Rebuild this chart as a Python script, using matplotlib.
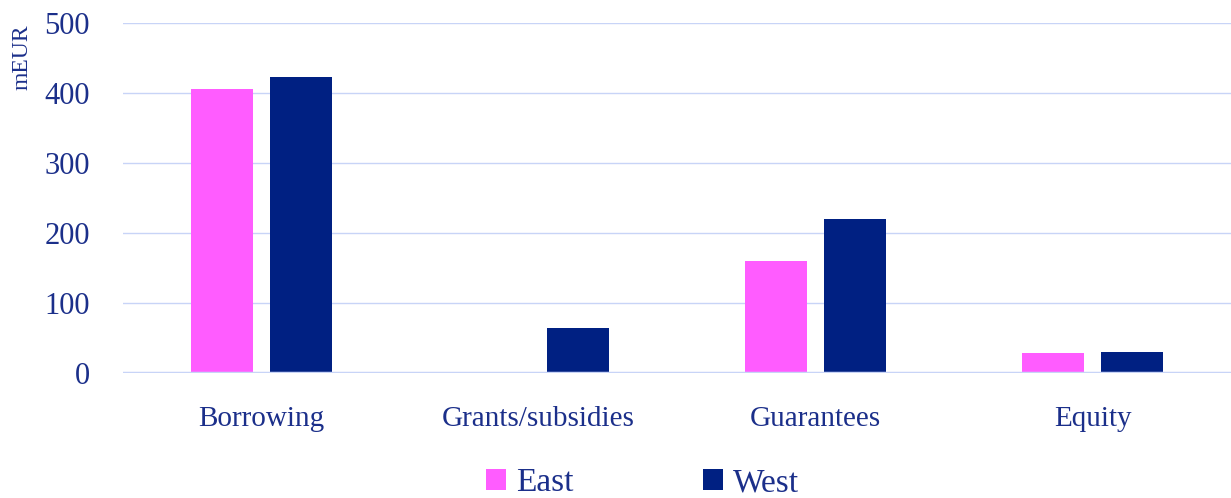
import matplotlib
matplotlib.use("Agg")
import matplotlib.pyplot as plt
import numpy as np

categories = ["Borrowing", "Grants/subsidies", "Guarantees", "Equity"]
east = [405, 0, 160, 28]
west = [423, 64, 220, 30]
yticks = [0, 100, 200, 300, 400, 500]

plt.rcParams['font.family'] = ['Liberation Serif', 'DejaVu Serif']
text_color = "#1B2F8A"
grid_color = "#C8D4F7"

fig = plt.figure(figsize=(12.31, 4.98), dpi=100)
ax = fig.add_axes([0.1, 0.251, 0.9, 0.703])

x = np.arange(len(categories))
w = 0.224
off = 0.143
ax.bar(x - off, east, w, color="#FF5CFF", label="East", zorder=3)
ax.bar(x + off, west, w, color="#002082", label="West", zorder=3)

ax.set_xlim(-0.5, len(categories) - 0.5)
ax.set_ylim(0, 500)
ax.set_yticks(yticks)
ax.set_yticklabels([str(v) for v in yticks])
ax.set_xticks(x)
ax.set_xticklabels(categories)
ax.tick_params(axis='y', length=0, pad=24, labelsize=22, labelcolor=text_color)
ax.tick_params(axis='x', length=0, pad=24, labelsize=21, labelcolor=text_color)
for s in ax.spines.values():
    s.set_visible(False)
ax.grid(axis='y', color=grid_color, linewidth=1.0, zorder=0)
ax.axhline(0, color=grid_color, linewidth=2.5, zorder=4)

fig.text(0.018, 0.885, "mEUR", rotation=90, ha='center', va='center',
         fontsize=17, color=text_color)

leg = fig.legend(loc='center', bbox_to_anchor=(0.522, 0.03), ncol=2, frameon=False,
                 fontsize=24, handlelength=0.6, handleheight=0.6,
                 handletextpad=0.3, columnspacing=3.9, borderpad=0.1)
for t in leg.get_texts():
    t.set_color(text_color)

fig.savefig("out.png", dpi=100)
